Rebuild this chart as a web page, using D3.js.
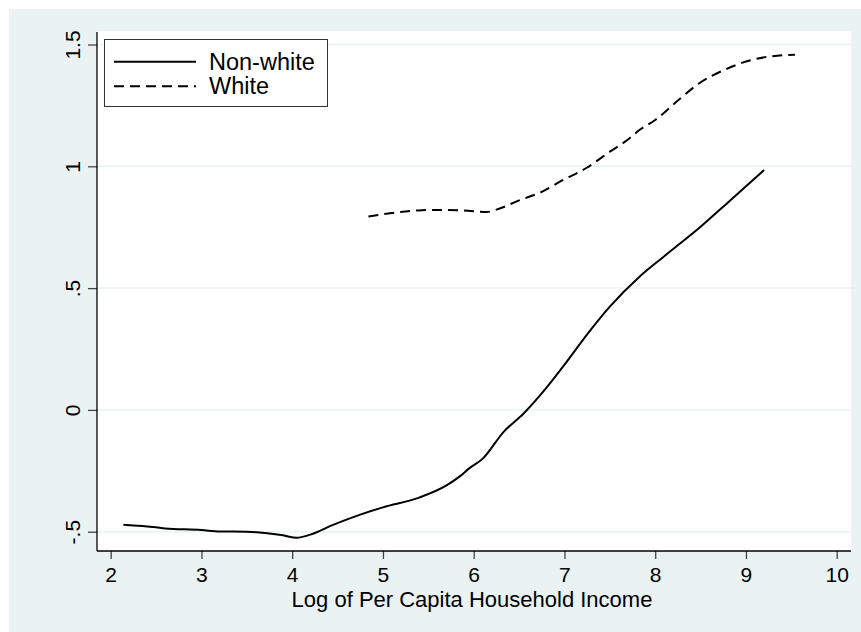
<!DOCTYPE html>
<html><head><meta charset="utf-8">
<script src="https://cdn.jsdelivr.net/npm/d3@7"></script>
<style>body{margin:0;background:#fff}svg{display:block}text{font-family:Arial,"Liberation Sans",sans-serif;fill:#000}</style>
</head><body>
<script>
const xTicks = [2,3,4,5,6,7,8,9,10];
const yTicks = [-0.5,0,0.5,1,1.5];
const yTickLabels = ["-.5","0",".5","1","1.5"];
const seriesNames = ["Non-white","White"];
const nonwhiteX = [2.14,2.5,2.6,3.0,3.2,3.5,3.7,3.9,4.05,4.2,4.45,4.75,5.0,5.4,5.7,5.85,5.95,6.1,6.33,6.55,6.8,7.02,7.25,7.5,7.83,8.09,8.5,8.82,9.2];
const nonwhiteY = [-0.471,-0.482,-0.487,-0.493,-0.499,-0.5,-0.505,-0.515,-0.525,-0.512,-0.472,-0.43,-0.40,-0.36,-0.31,-0.272,-0.24,-0.2,-0.09,-0.015,0.09,0.195,0.31,0.424,0.548,0.628,0.752,0.858,0.985];
const whiteX = [4.84,5.1,5.39,5.6,5.885,6.14,6.25,6.5,6.75,6.97,7.25,7.5,7.7,7.83,8.0,8.25,8.49,8.77,9.01,9.23,9.54];
const whiteY = [0.794,0.808,0.819,0.821,0.819,0.812,0.822,0.86,0.895,0.941,0.995,1.06,1.11,1.15,1.19,1.27,1.342,1.397,1.431,1.449,1.458];

const W=861,H=632;
const FONT="Arial, 'Liberation Sans', sans-serif";
const svg=d3.select("body").append("svg").attr("width",W).attr("height",H);
svg.append("rect").attr("x",9).attr("y",9).attr("width",W-9).attr("height",H-9).attr("fill","#EAF2F3");
const L=97,R=851,T=31,B=551;
svg.append("rect").attr("x",L).attr("y",T).attr("width",R-L).attr("height",B-T).attr("fill","#fff");
const x=d3.scaleLinear().domain([2,10]).range([110.7,836.7]);
const y=d3.scaleLinear().domain([-0.5,1.5]).range([531.7,44.5]);
// gridlines
svg.append("g").selectAll("line").data(yTicks).join("line")
 .attr("x1",L).attr("x2",R).attr("y1",d=>y(d)).attr("y2",d=>y(d))
 .attr("stroke","#EAF2F3").attr("stroke-width",1.5);
// axes
const xa=svg.append("g").attr("transform",`translate(0,${B})`)
 .call(d3.axisBottom(x).tickValues(xTicks).tickSize(8).tickPadding(8).tickFormat(d3.format("d")));
xa.select(".domain").remove();
xa.selectAll("line").attr("stroke","#444").attr("stroke-width",1.3);
xa.selectAll("text").attr("font-size",21).attr("font-family",FONT).attr("fill","#000");
const ya=svg.append("g").attr("transform",`translate(${L},0)`)
 .call(d3.axisLeft(y).tickValues(yTicks).tickSize(9).tickFormat((d,i)=>yTickLabels[i]));
ya.select(".domain").remove();
ya.selectAll("line").attr("stroke","#444").attr("stroke-width",1.3);
ya.selectAll("text").attr("font-size",21).attr("font-family",FONT).attr("fill","#000")
 .attr("text-anchor","middle").attr("x",null).attr("dy",null)
 .attr("transform","translate(-17,0) rotate(-90)");
svg.append("line").attr("x1",L).attr("x2",L).attr("y1",T+1).attr("y2",B).attr("stroke","#000").attr("stroke-width",1.3);
svg.append("line").attr("x1",L).attr("x2",R).attr("y1",B).attr("y2",B).attr("stroke","#000").attr("stroke-width",1.3);
svg.append("text").attr("x",472).attr("y",607).attr("text-anchor","middle").attr("font-size",22).text("Log of Per Capita Household Income");
// lines
const line=d3.line().x(d=>x(d[0])).y(d=>y(d[1])).curve(d3.curveMonotoneX);
svg.append("path").datum(nonwhiteX.map((v,i)=>[v,nonwhiteY[i]])).attr("d",line)
 .attr("fill","none").attr("stroke","#000").attr("stroke-width",2);
svg.append("path").datum(whiteX.map((v,i)=>[v,whiteY[i]])).attr("d",line)
 .attr("fill","none").attr("stroke","#000").attr("stroke-width",2).attr("stroke-dasharray","10,6");
// legend
const lg=svg.append("g");
lg.append("rect").attr("x",104.5).attr("y",39.5).attr("width",223).attr("height",67).attr("fill","#fff").attr("stroke","#333").attr("stroke-width",1);
seriesNames.forEach((n,i)=>{
 lg.append("line").attr("x1",114).attr("x2",196).attr("y1",61.7+i*24.5).attr("y2",61.7+i*24.5)
  .attr("stroke","#000").attr("stroke-width",2).attr("stroke-dasharray",i?"10,6":null);
 lg.append("text").attr("x",209).attr("y",69.5+i*24.5).attr("font-size",23.5).text(n);
});
</script>
</body></html>
